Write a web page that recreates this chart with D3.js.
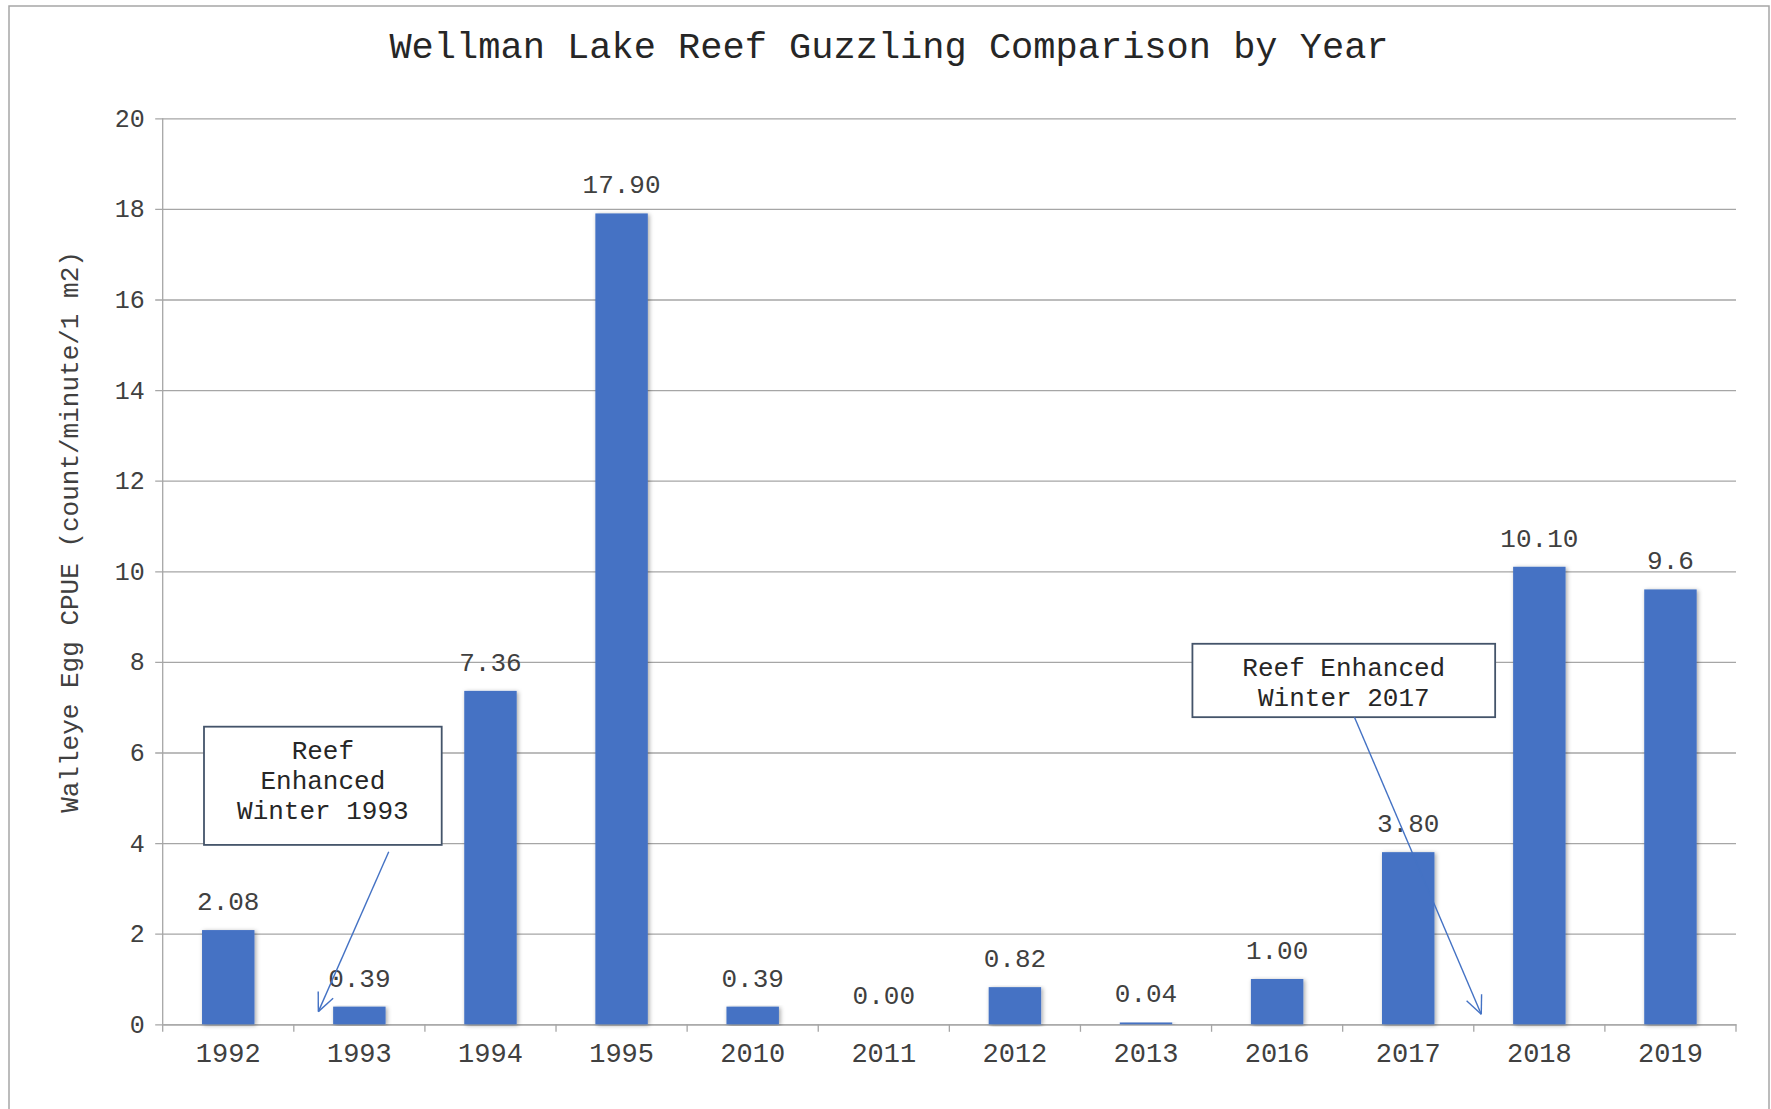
<!DOCTYPE html>
<html>
<head>
<meta charset="utf-8">
<script src="https://cdn.jsdelivr.net/npm/d3@7"></script>
<style>
	body { margin: 0; background: #fff; }
	text { font-family: "Courier New", "Liberation Mono", monospace; fill: #333; }
</style>
</head>
<body>
<div id="chart"></div>
<script>
var years = ["1992", "1993", "1994", "1995", "2010", "2011", "2012", "2013", "2016", "2017", "2018", "2019"];
var cpue = [2.08, 0.39, 7.36, 17.90, 0.39, 0.00, 0.82, 0.04, 1.00, 3.80, 10.10, 9.6];
var cpueLabels = ["2.08", "0.39", "7.36", "17.90", "0.39", "0.00", "0.82", "0.04", "1.00", "3.80", "10.10", "9.6"];
var yTicks = [0, 2, 4, 6, 8, 10, 12, 14, 16, 18, 20];

// callouts: x in category units (0 = left edge of plot), y in data units
var notes = [
	{lines: ["Reef", "Enhanced", "Winter 1993"], x0: 0.315, x1: 2.128, yTop: 6.57, yBot: 3.96,
		from: [1.724, 3.81], to: [1.187, 0.28]},
	{lines: ["Reef Enhanced", "Winter 2017"], x0: 7.854, x1: 10.163, yTop: 8.40, yBot: 6.78,
		from: [9.09, 6.78], to: [10.057, 0.22]}
];

var W = 1771, H = 1109;
var margin = {top: 118.3, right: 35, bottom: 84.7, left: 162.7},
	width = W - margin.left - margin.right,
	height = H - margin.top - margin.bottom;

var svg = d3.select("#chart").append("svg")
	.attr("width", W)
	.attr("height", H);

var defs = svg.append("defs");
defs.append("filter").attr("id", "shadow")
	.attr("x", "-20%").attr("y", "-5%").attr("width", "140%").attr("height", "110%")
	.append("feDropShadow")
	.attr("dx", 1.5).attr("dy", 1).attr("stdDeviation", 2)
	.attr("flood-color", "#000").attr("flood-opacity", 0.35);

svg.append("rect")
	.attr("x", 9).attr("y", 6)
	.attr("width", 1760).attr("height", 1200)
	.attr("fill", "#fff")
	.attr("stroke", "#a6a6a6")
	.attr("stroke-width", 1.5);

svg.append("text")
	.attr("x", 889).attr("y", 57.5)
	.attr("text-anchor", "middle")
	.style("font-size", "37px")
	.style("fill", "#262626")
	.text("Wellman Lake Reef Guzzling Comparison by Year");

var x = d3.scaleBand().domain(years).range([0, width]).paddingInner(0.6).paddingOuter(0.3);
var y = d3.scaleLinear().domain([0, 20]).range([height, 0]);
var step = x.step();
var cx = function(v) { return v * width / years.length; };

var g = svg.append("g")
	.attr("transform", "translate(" + margin.left + "," + margin.top + ")");

// gridlines + y axis
var yAxis = g.append("g")
	.attr("class", "axis axis--y")
	.call(d3.axisLeft(y).tickValues(yTicks).tickSize(-width).tickSizeOuter(0).tickPadding(18));
yAxis.select(".domain").remove();
yAxis.selectAll("line").attr("stroke", "#a6a6a6").attr("stroke-width", 1.3).attr("x1", -7.5);
yAxis.selectAll("text").style("font-size", "25px").style("fill", "#404040");

g.append("line")
	.attr("x1", 0).attr("x2", 0).attr("y1", 0).attr("y2", height)
	.attr("stroke", "#a6a6a6").attr("stroke-width", 1.3);

// x axis with ticks between categories
var xAxis = g.append("g")
	.attr("class", "axis axis--x")
	.attr("transform", "translate(0," + height + ")")
	.call(d3.axisBottom(x).tickSize(0).tickPadding(0));
xAxis.select(".domain").attr("stroke", "#a6a6a6").attr("stroke-width", 1.3);
xAxis.selectAll("text").attr("dy", null).attr("y", 38).style("font-size", "27px").style("fill", "#404040");
g.append("g").selectAll("line")
	.data(d3.range(years.length + 1))
	.enter().append("line")
	.attr("x1", function(i) { return i * step; })
	.attr("x2", function(i) { return i * step; })
	.attr("y1", height).attr("y2", height + 7.5)
	.attr("stroke", "#a6a6a6").attr("stroke-width", 1.3);

// bars
g.selectAll(".bar")
	.data(cpue)
	.enter().append("rect")
	.attr("class", "bar")
	.attr("x", function(d, i) { return x(years[i]); })
	.attr("y", function(d) { return y(d); })
	.attr("width", x.bandwidth())
	.attr("height", function(d) { return height - y(d); })
	.attr("fill", "#4472c4")
	.attr("filter", "url(#shadow)");

g.selectAll(".label")
	.data(cpue)
	.enter().append("text")
	.attr("class", "label")
	.attr("x", function(d, i) { return x(years[i]) + x.bandwidth() / 2; })
	.attr("y", function(d) { return y(d) - 20; })
	.attr("text-anchor", "middle")
	.style("font-size", "26px")
	.style("fill", "#404040")
	.text(function(d, i) { return cpueLabels[i]; });

// callouts
notes.forEach(function(n) {
	var x0 = cx(n.x0), x1 = cx(n.x1), yt = y(n.yTop), yb = y(n.yBot);
	g.append("rect")
		.attr("x", x0).attr("y", yt)
		.attr("width", x1 - x0).attr("height", yb - yt)
		.attr("fill", "#fff")
		.attr("stroke", "#44546a")
		.attr("stroke-width", 1.8);
	n.lines.forEach(function(t, k) {
		g.append("text")
			.attr("x", (x0 + x1) / 2)
			.attr("y", yt + 32 + k * 30)
			.attr("text-anchor", "middle")
			.style("font-size", "26px")
			.style("fill", "#262626")
			.text(t);
	});
	var fx = cx(n.from[0]), fy = y(n.from[1]), tx = cx(n.to[0]), ty = y(n.to[1]);
	g.append("line")
		.attr("x1", fx).attr("y1", fy).attr("x2", tx).attr("y2", ty)
		.attr("stroke", "#4472c4").attr("stroke-width", 1.4);
	var ang = Math.atan2(ty - fy, tx - fx), len = 20, spread = 0.42;
	[ang + Math.PI - spread, ang + Math.PI + spread].forEach(function(a) {
		g.append("line")
			.attr("x1", tx).attr("y1", ty)
			.attr("x2", tx + len * Math.cos(a)).attr("y2", ty + len * Math.sin(a))
			.attr("stroke", "#4472c4").attr("stroke-width", 1.4);
	});
});

svg.append("text")
	.attr("transform", "translate(78,532) rotate(-90)")
	.attr("text-anchor", "middle")
	.style("font-size", "26px")
	.style("fill", "#404040")
	.text("Walleye Egg CPUE (count/minute/1 m2)");
</script>
</body>
</html>
